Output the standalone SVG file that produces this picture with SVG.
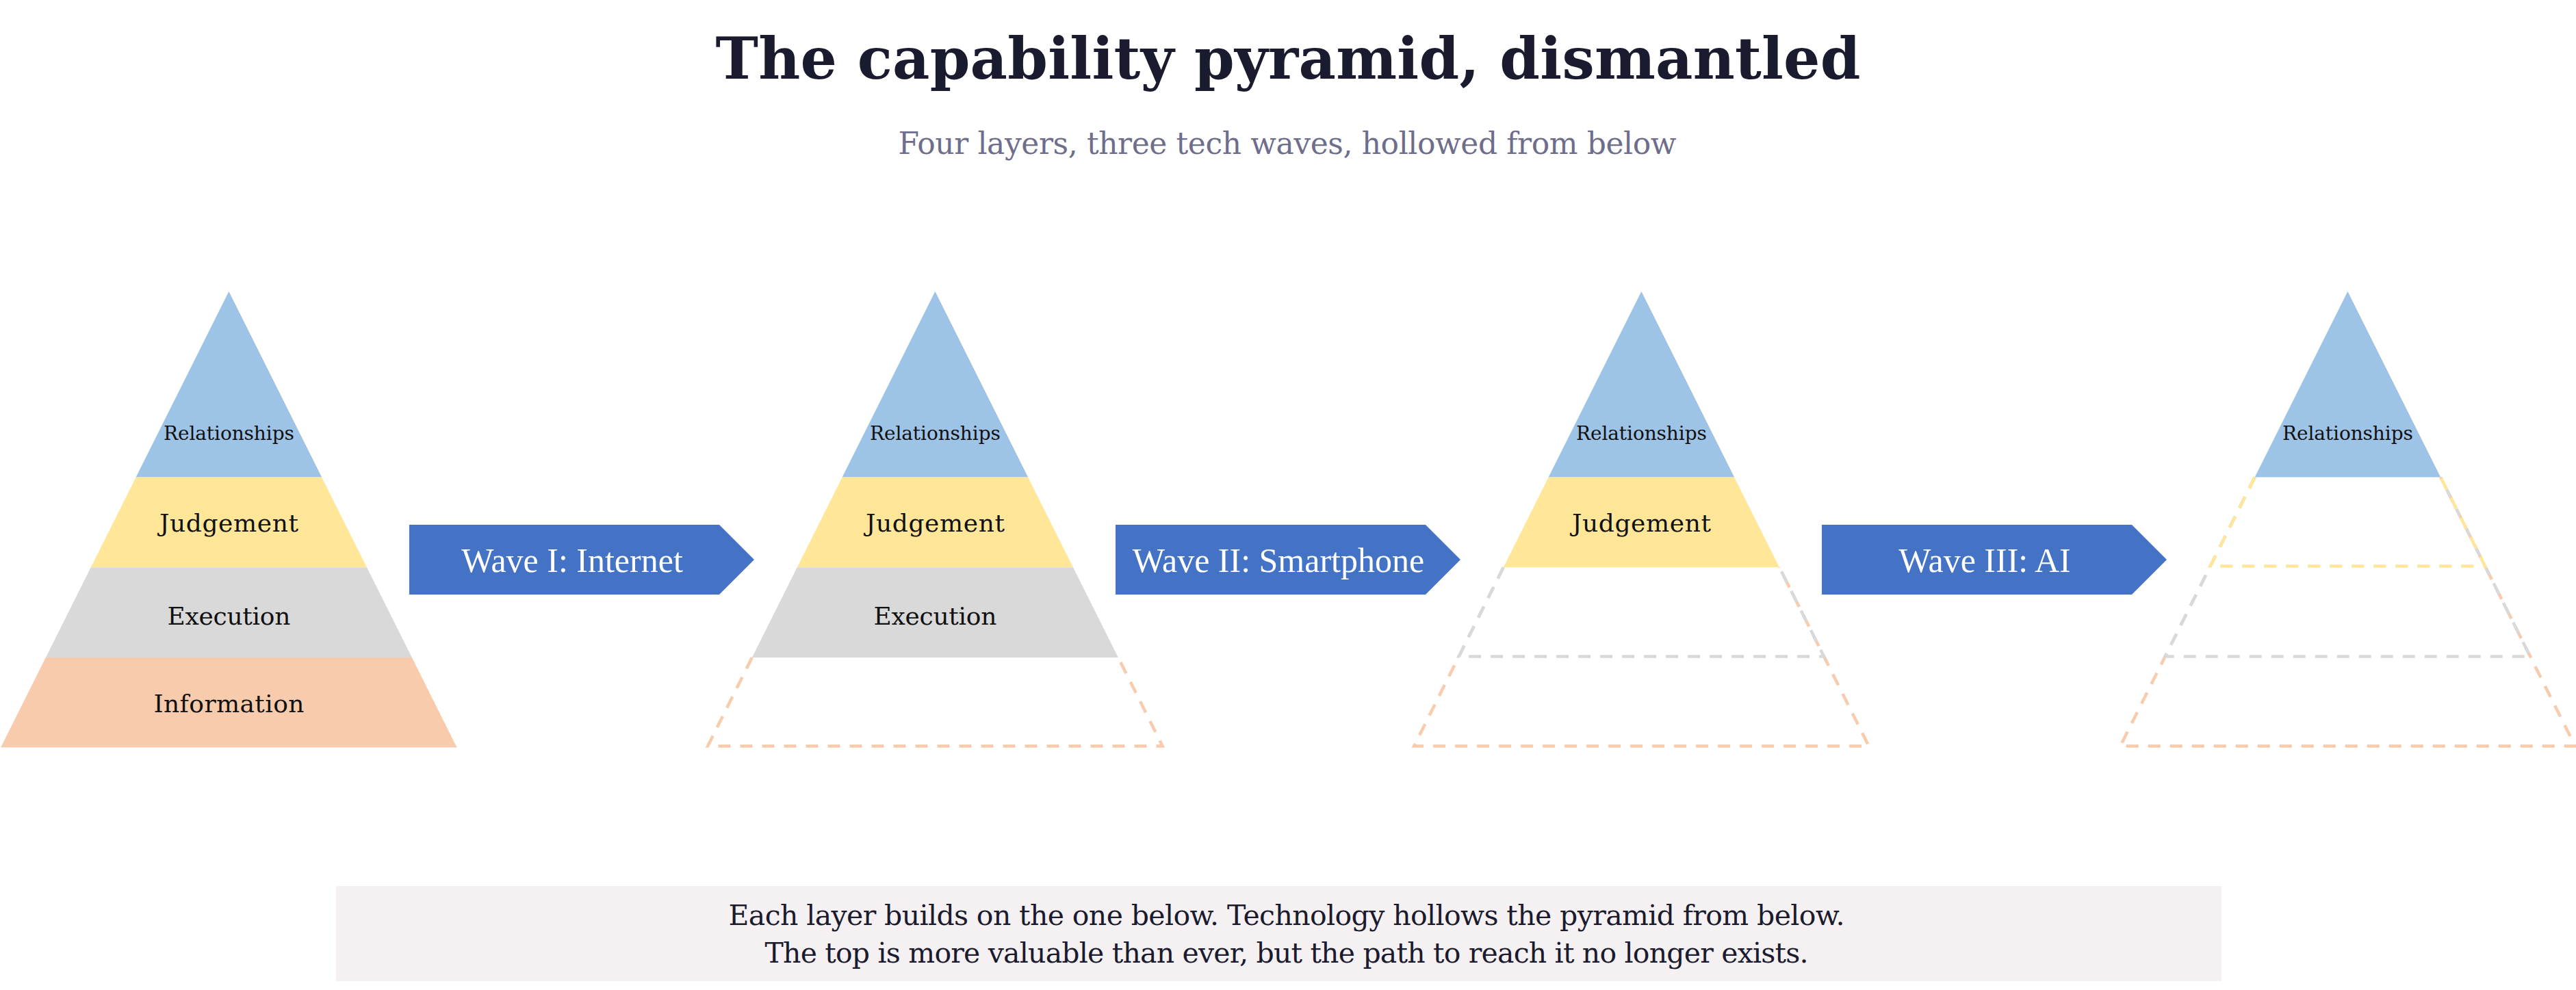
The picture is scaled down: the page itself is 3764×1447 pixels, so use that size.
<svg xmlns="http://www.w3.org/2000/svg" width="3764" height="1447" viewBox="0 0 3764 1447">
  <style>
    .rel { fill: #9DC3E6; }
    .jud { fill: #FFE699; }
    .exe { fill: #D9D9D9; }
    .inf { fill: #F8CBAD; }
    .dash { fill: none; stroke-width: 4.5; stroke-dasharray: 18 14; }
    .d-jud { stroke: #FFE699; }
    .d-exe { stroke: #D9D9D9; }
    .d-inf { stroke: #F8CBAD; }
    .lbl { font-family: "DejaVu Serif", "Liberation Serif", serif; font-size: 36px; fill: #111111; text-anchor: middle; }
    .lbl-s { font-size: 28px; }
    .arrow { fill: #4472C4; }
    .atxt { font-family: "Liberation Serif", serif; font-size: 50px; fill: #FFFFFF; text-anchor: middle; }
    .title { font-family: "DejaVu Serif", "Liberation Serif", serif; font-weight: bold; font-size: 84px; fill: #1B1B2F; text-anchor: middle; }
    .sub { font-family: "DejaVu Serif", "Liberation Serif", serif; font-size: 44px; fill: #6E6E8C; text-anchor: middle; }
    .foot { font-family: "DejaVu Serif", "Liberation Serif", serif; font-size: 41px; fill: #1B1B2F; text-anchor: middle; }
  </style>
  <defs>
    <polygon id="L-rel" points="0,426 135.75,697.5 -135.75,697.5"/>
    <polygon id="L-jud" points="-135.75,697.5 135.75,697.5 201.65,829.3 -201.65,829.3"/>
    <polygon id="L-exe" points="-201.65,829.3 201.65,829.3 267.55,961.1 -267.55,961.1"/>
    <polygon id="L-inf" points="-267.55,961.1 267.55,961.1 333.25,1092.5 -333.25,1092.5"/>
  </defs>
  <rect width="3764" height="1447" fill="#FFFFFF"/>

  <g id="title">
    <text class="title" x="1882" y="115" textLength="1673">The capability pyramid, dismantled</text>
    <text class="sub" x="1881" y="225" textLength="1137">Four layers, three tech waves, hollowed from below</text>
  </g>

  <g id="pyramid-1" transform="translate(334.4,0)">
    <use href="#L-rel" class="rel"/>
    <use href="#L-jud" class="jud"/>
    <use href="#L-exe" class="exe"/>
    <use href="#L-inf" class="inf"/>
    <text class="lbl lbl-s" x="0" y="643" textLength="191">Relationships</text>
    <text class="lbl" x="0" y="777" textLength="203">Judgement</text>
    <text class="lbl" x="0" y="913" textLength="180">Execution</text>
    <text class="lbl" x="0" y="1041" textLength="220">Information</text>
  </g>

  <g id="pyramid-2" transform="translate(1366.4,0)">
    <path class="dash d-inf" d="M-267.55,961.1 L-332.25,1090.5 L332.25,1090.5 L267.55,961.1"/>
    <use href="#L-rel" class="rel"/>
    <use href="#L-jud" class="jud"/>
    <use href="#L-exe" class="exe"/>
    <text class="lbl lbl-s" x="0" y="643" textLength="191">Relationships</text>
    <text class="lbl" x="0" y="777" textLength="203">Judgement</text>
    <text class="lbl" x="0" y="913" textLength="180">Execution</text>
  </g>

  <g id="pyramid-3" transform="translate(2398.4,0)">
    <path class="dash d-inf" d="M-201.65,829.3 L-332.25,1090.5 L332.25,1090.5 L201.65,829.3"/>
    <path class="dash d-exe" d="M-201.65,829.3 L-266.75,959.5 L266.75,959.5 L201.65,829.3"/>
    <use href="#L-rel" class="rel"/>
    <use href="#L-jud" class="jud"/>
    <text class="lbl lbl-s" x="0" y="643" textLength="191">Relationships</text>
    <text class="lbl" x="0" y="777" textLength="203">Judgement</text>
  </g>

  <g id="pyramid-4" transform="translate(3430.4,0)">
    <path class="dash d-inf" d="M-135.75,697.5 L-332.25,1090.5 L332.25,1090.5 L135.75,697.5"/>
    <path class="dash d-exe" d="M-135.75,697.5 L-266.75,959.5 L266.75,959.5 L135.75,697.5"/>
    <path class="dash d-jud" d="M-135.75,697.5 L-200.75,827.5 L200.75,827.5 L135.75,697.5"/>
    <use href="#L-rel" class="rel"/>
    <text class="lbl lbl-s" x="0" y="643" textLength="191">Relationships</text>
  </g>

  <g id="connectors">
    <g id="wave-1">
      <polygon class="arrow" points="598,767 1051,767 1102,818 1051,869 598,869"/>
      <text class="atxt" x="836" y="836">Wave I: Internet</text>
    </g>
    <g id="wave-2">
      <polygon class="arrow" points="1630,767 2083,767 2134,818 2083,869 1630,869"/>
      <text class="atxt" x="1868" y="836">Wave II: Smartphone</text>
    </g>
    <g id="wave-3">
      <polygon class="arrow" points="2662,767 3115,767 3166,818 3115,869 2662,869"/>
      <text class="atxt" x="2900" y="836">Wave III: AI</text>
    </g>
  </g>

  <g id="footer">
    <rect x="491" y="1295" width="2755" height="139" fill="#F5F1F2"/>
    <text class="foot" x="1880" y="1352" textLength="1631">Each layer builds on the one below. Technology hollows the pyramid from below.</text>
    <text class="foot" x="1880" y="1407" textLength="1525">The top is more valuable than ever, but the path to reach it no longer exists.</text>
  </g>
</svg>
